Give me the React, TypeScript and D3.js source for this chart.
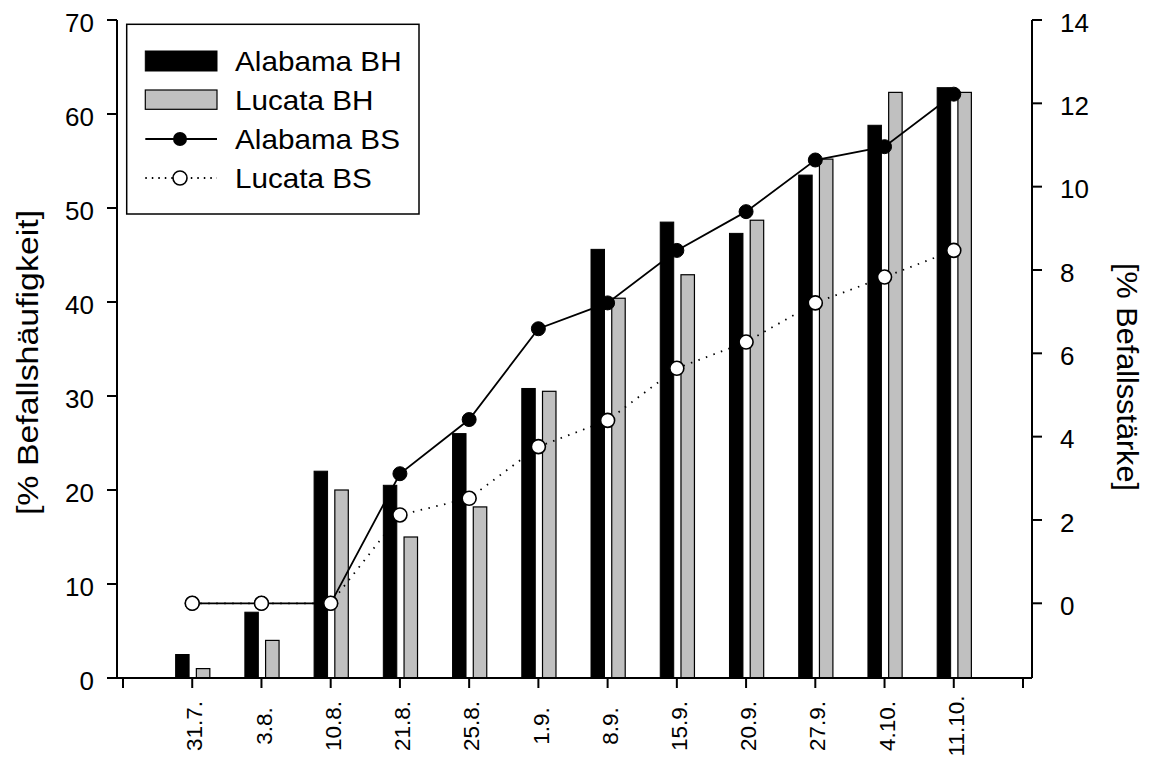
import React from "react";
import * as d3 from "d3";

const categories = ["31.7.", "3.8.", "10.8.", "21.8.", "25.8.", "1.9.", "8.9.", "15.9.", "20.9.", "27.9.", "4.10.", "11.10."];
const alabamaBH = [2.5, 7, 22, 20.5, 26, 30.8, 45.6, 48.5, 47.3, 53.5, 58.8, 62.8];
const lucataBH = [1, 4, 20, 15, 18.2, 30.5, 40.4, 42.9, 48.7, 55.2, 62.3, 62.3];
const alabamaBS = [0, 0, 0, 3.11, 4.41, 6.59, 7.21, 8.47, 9.4, 10.64, 10.96, 12.22];
const lucataBS = [0, 0, 0, 2.12, 2.52, 3.76, 4.39, 5.64, 6.27, 7.21, 7.83, 8.47];
const leftTicks = [0, 10, 20, 30, 40, 50, 60, 70];
const rightTicks = [0, 2, 4, 6, 8, 10, 12, 14];
const legendItems = ["Alabama BH", "Lucata BH", "Alabama BS", "Lucata BS"];

const FONT = "'Liberation Sans', Arial, sans-serif";

export default function App() {
  const W = 1152, H = 758;
  const axisL = 117, axisR = 1032, axisB = 678, axisT = 20;
  const x = d3.scaleLinear().domain([-1, 12]).range([123, 1023]);
  const sub = d3.scaleBand<string>().domain(["A", "L"]).range([-16.6, 17.6]).paddingInner(0.35);
  const yL = d3.scaleLinear().domain([0, 70]).range([axisB, axisT]);
  const yR = d3.scaleLinear().domain([0, 14]).range([603.3, 20]);
  const xTicks = d3.range(-1, 13);

  const lineA = d3.line<number>().x((_, i) => x(i)).y((d) => yR(d));
  const r = 7;

  return (
    <svg width={W} height={H} style={{ position: "absolute", left: 0, top: 0, background: "#fff" }} fontFamily={FONT}>
      {/* bars */}
      {alabamaBH.map((v, i) => (
        <rect key={"a" + i} x={x(i) + (sub("A") as number)} y={yL(v)} width={sub.bandwidth()} height={axisB - yL(v)} fill="#000" stroke="#000" strokeWidth={1} />
      ))}
      {lucataBH.map((v, i) => (
        <rect key={"l" + i} x={x(i) + (sub("L") as number)} y={yL(v)} width={sub.bandwidth()} height={axisB - yL(v)} fill="#c0c0c0" stroke="#000" strokeWidth={1.2} />
      ))}
      {/* lines */}
      <path d={lineA(alabamaBS) || ""} fill="none" stroke="#000" strokeWidth={1.8} />
      {alabamaBS.map((v, i) => (
        <circle key={"ca" + i} cx={x(i)} cy={yR(v)} r={r} fill="#000" stroke="#000" strokeWidth={1} />
      ))}
      <path d={lineA(lucataBS) || ""} fill="none" stroke="#000" strokeWidth={1.8} strokeDasharray="1.5 6.5" />
      {lucataBS.map((v, i) => (
        <circle key={"cl" + i} cx={x(i)} cy={yR(v)} r={r} fill="#fff" stroke="#000" strokeWidth={1.6} />
      ))}

      {/* left axis */}
      <line x1={axisL} x2={axisL} y1={axisT} y2={axisB} stroke="#000" strokeWidth={2} />
      {leftTicks.map((t) => (
        <g key={"lt" + t}>
          <line x1={axisL - 10} x2={axisL} y1={yL(t)} y2={yL(t)} stroke="#000" strokeWidth={2} />
          <text x={94} y={yL(t)} dy="0.45em" textAnchor="end" fontSize={26}>{t}</text>
        </g>
      ))}
      {/* right axis */}
      <line x1={axisR} x2={axisR} y1={axisT} y2={axisB} stroke="#000" strokeWidth={2} />
      {rightTicks.map((t) => (
        <g key={"rt" + t}>
          <line x1={axisR} x2={axisR + 10} y1={yR(t)} y2={yR(t)} stroke="#000" strokeWidth={2} />
          <text x={1060} y={yR(t)} dy="0.45em" textAnchor="start" fontSize={26}>{t}</text>
        </g>
      ))}
      {/* bottom axis */}
      <line x1={axisL} x2={axisR} y1={axisB} y2={axisB} stroke="#000" strokeWidth={2} />
      {xTicks.map((t) => (
        <line key={"bt" + t} x1={x(t)} x2={x(t)} y1={axisB} y2={axisB + 10} stroke="#000" strokeWidth={2} />
      ))}
      {categories.map((c, i) => (
        <text key={"xl" + i} transform={`translate(${x(i)},${726}) rotate(-90)`} dy="0.45em" textAnchor="middle" fontSize={22.5}>{c}</text>
      ))}
      {/* axis titles */}
      <text transform={`translate(27,362.5) rotate(-90) scale(1.13,1)`} dy="0.35em" textAnchor="middle" fontSize={30}>[% Befallshäufigkeit]</text>
      <text transform={`translate(1128,377) rotate(90) scale(1.02,1)`} dy="0.35em" textAnchor="middle" fontSize={30}>[% Befallsstärke]</text>

      {/* legend */}
      <rect x={126.7} y={24.3} width={292.3} height={189.7} fill="#fff" stroke="#000" strokeWidth={1.5} />
      {legendItems.map((name, k) => {
        const cy = 61 + k * 39;
        return (
          <g key={"lg" + k}>
            {k === 0 && <rect x={145.3} y={cy - 10} width={71.7} height={20} fill="#000" stroke="#000" />}
            {k === 1 && <rect x={145.3} y={cy - 10} width={71.7} height={19.3} fill="#c0c0c0" stroke="#000" strokeWidth={1.2} />}
            {k === 2 && (
              <g>
                <line x1={145.3} x2={217} y1={cy} y2={cy} stroke="#000" strokeWidth={1.8} />
                <circle cx={180} cy={cy} r={r} fill="#000" />
              </g>
            )}
            {k === 3 && (
              <g>
                <line x1={145.3} x2={217} y1={cy} y2={cy} stroke="#000" strokeWidth={1.8} strokeDasharray="1.5 5" />
                <circle cx={180} cy={cy} r={r} fill="#fff" stroke="#000" strokeWidth={1.6} />
              </g>
            )}
            <text transform={`translate(235,${cy + 10}) scale(1.06,1)`} fontSize={28}>{name}</text>
          </g>
        );
      })}
    </svg>
  );
}
